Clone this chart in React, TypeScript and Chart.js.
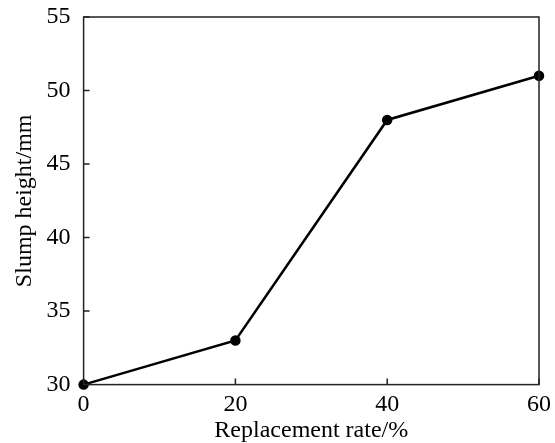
import React, { useEffect, useRef } from "react";
import { Chart, registerables } from "chart.js";

Chart.register(...registerables);

const replacementRates = [0, 20, 40, 60];
const slumpHeights = [30, 33, 48, 51];
const xTicks = [0, 20, 40, 60];
const yTicks = [30, 35, 40, 45, 50, 55];

const FONT = "'Liberation Serif', 'Times New Roman', serif";

const frameAndTicks = {
  id: "frameAndTicks",
  afterDraw(chart: any) {
    const { ctx, chartArea } = chart;
    const { left, right, top, bottom } = chartArea;
    ctx.save();
    ctx.strokeStyle = "#222";
    ctx.lineWidth = 1.5;
    ctx.strokeRect(left, top, right - left, bottom - top);
    const xs = chart.scales.x;
    const ys = chart.scales.y;
    const len = 6;
    ctx.beginPath();
    xTicks.forEach((v) => {
      const px = xs.getPixelForValue(v);
      ctx.moveTo(px, bottom);
      ctx.lineTo(px, bottom - len);
    });
    yTicks.forEach((v) => {
      const py = ys.getPixelForValue(v);
      ctx.moveTo(left, py);
      ctx.lineTo(left + len, py);
    });
    ctx.stroke();
    ctx.restore();
  },
};

export default function App() {
  const ref = useRef<HTMLCanvasElement>(null);
  useEffect(() => {
    if (!ref.current) return;
    const chart = new Chart(ref.current, {
      type: "line",
      data: {
        datasets: [
          {
            data: replacementRates.map((x, i) => ({ x, y: slumpHeights[i] })),
            borderColor: "#000",
            backgroundColor: "#000",
            borderWidth: 2.5,
            pointRadius: 4,
            pointBackgroundColor: "#000",
            pointBorderColor: "#000",
            tension: 0,
            clip: false as any,
          },
        ],
      },
      options: {
        animation: false,
        responsive: false,
        layout: { padding: { top: 15, right: 16, left: 11, bottom: 0 } },
        plugins: { legend: { display: false }, tooltip: { enabled: false } },
        scales: {
          x: {
            type: "linear",
            min: 0,
            max: 60,
            afterBuildTicks: (s: any) => {
              s.ticks = xTicks.map((v) => ({ value: v }));
            },
            grid: { display: false },
            border: { display: false },
            ticks: { color: "#000", font: { family: FONT, size: 24, lineHeight: 1.05 }, padding: 0 },
            title: {
              display: true,
              text: "Replacement rate/%",
              color: "#000",
              font: { family: FONT, size: 24, lineHeight: 1.05 },
              padding: { top: 0, bottom: 0 },
            },
          },
          y: {
            type: "linear",
            min: 30,
            max: 55,
            afterBuildTicks: (s: any) => {
              s.ticks = yTicks.map((v) => ({ value: v }));
            },
            grid: { display: false },
            border: { display: false },
            ticks: { color: "#000", font: { family: FONT, size: 24, lineHeight: 1.0 }, padding: 5 },
            title: {
              display: true,
              text: "Slump height/mm",
              color: "#000",
              font: { family: FONT, size: 24, lineHeight: 1.15 },
              padding: { top: 0, bottom: 3 },
            },
          },
        },
      },
      plugins: [frameAndTicks],
    });
    return () => chart.destroy();
  }, []);
  return (
    <div style={{ position: "absolute", left: 0, top: 0, width: 555, height: 443, background: "#fff" }}>
      <canvas ref={ref} width={555} height={443} style={{ display: "block" }} />
    </div>
  );
}
